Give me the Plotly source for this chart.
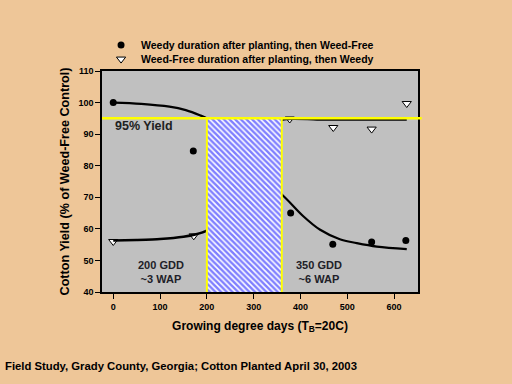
import plotly.graph_objects as go

# Observed data (GDD after planting, % of weed-free control yield)
weedy_x = [0, 171, 379, 469, 552, 625]
weedy_y = [100, 84.7, 65, 55.1, 55.8, 56.3]
weedfree_x = [0, 172, 377, 470, 552, 627]
weedfree_y = [56, 57.8, 94.8, 92.1, 91.6, 99.7]

# Fitted curves
weedy_fit_x = [0, 60, 120, 155, 185, 200, 250, 300, 330, 363, 406, 442, 484, 520, 563, 627]
weedy_fit_y = [100, 99.6, 98.7, 97.6, 96, 95, 87, 78.5, 74.5, 70.5, 64, 59.7, 56.7, 55.5, 54.4, 53.6]
weedfree_fit_x = [0, 50, 100, 150, 175, 200, 250, 300, 340, 362, 450, 540, 627]
weedfree_fit_y = [56.3, 56.5, 56.8, 57.5, 58.2, 59.5, 67, 82, 92, 94.6, 94.6, 94.6, 94.6]

# Critical period and threshold
critical_start = 200
critical_end = 360
yield_threshold = 95
y_min, y_max = 40, 110
x_min, x_max = -24, 651
y_ticks = [40, 50, 60, 70, 80, 90, 100, 110]
x_ticks = [0, 100, 200, 300, 400, 500, 600]

weedy_label = "Weedy duration after planting, then Weed-Free"
weedfree_label = "Weed-Free duration after planting, then Weedy"

BG = "#EEC698"
FONT = "Liberation Sans"

fig = go.Figure()

fig.add_trace(go.Scatter(
    x=weedy_x, y=weedy_y, mode="markers", name=weedy_label, legend="legend",
    marker=dict(symbol="circle", size=7, color="black"),
))
fig.add_trace(go.Scatter(
    x=weedfree_x, y=weedfree_y, mode="markers", name=weedfree_label, legend="legend2",
    marker=dict(symbol="triangle-down", size=8, color="white", line=dict(color="black", width=1)),
))
fig.add_trace(go.Scatter(
    x=weedy_fit_x, y=weedy_fit_y, mode="lines", showlegend=False,
    line=dict(color="black", width=2.2, shape="spline"),
))
fig.add_trace(go.Scatter(
    x=weedfree_fit_x, y=weedfree_fit_y, mode="lines", showlegend=False,
    line=dict(color="black", width=2.5, shape="spline", smoothing=0.6),
))
fig.add_trace(go.Scatter(
    x=[critical_start, critical_end, critical_end, critical_start, critical_start],
    y=[y_min, y_min, yield_threshold, yield_threshold, y_min],
    mode="lines", fill="toself", showlegend=False, hoverinfo="skip",
    line=dict(width=0, color="rgba(0,0,0,0)"),
    fillcolor="white",
    fillpattern=dict(shape="\\", fgcolor="#0000FF", bgcolor="white", size=4, solidity=0.62),
))

# yellow threshold and critical-period borders
fig.add_shape(type="line", xref="paper", yref="y", x0=0, x1=1.012,
              y0=yield_threshold, y1=yield_threshold,
              line=dict(color="#FFFF00", width=2.5), layer="above")
for xv in (critical_start, critical_end):
    fig.add_shape(type="line", xref="x", yref="y", x0=xv, x1=xv,
                  y0=y_min, y1=yield_threshold,
                  line=dict(color="#FFFF00", width=2), layer="above")

annot_font = dict(family=FONT, size=11, color="#202028")
fig.add_annotation(x=66, y=92.5, text="<b>95% Yield</b>", showarrow=False,
                   font=dict(family=FONT, size=12.5, color="#202020"))
fig.add_annotation(x=103, y=46.2, text="<b>200 GDD<br>~3 WAP</b>", showarrow=False, font=annot_font)
fig.add_annotation(x=439, y=46.2, text="<b>350 GDD<br>~6 WAP</b>", showarrow=False, font=annot_font)
fig.add_annotation(xref="paper", yref="paper", x=-0.313, y=-0.335, xanchor="left", yanchor="middle",
                   text="<b>Field Study, Grady County, Georgia; Cotton Planted April 30, 2003</b>",
                   showarrow=False, font=dict(family=FONT, size=11.3, color="black"))

legend_common = dict(
    xref="paper", yref="paper", x=-0.003, xanchor="left", yanchor="middle",
    bgcolor="rgba(0,0,0,0)", borderwidth=0,
    font=dict(family=FONT, size=10.5, color="black", weight="bold"),
)

fig.update_layout(
    width=512, height=384,
    paper_bgcolor=BG, plot_bgcolor="#C0C0C0",
    margin=dict(l=102, r=94, t=71, b=92),
    legend=dict(y=1.1176, **legend_common),
    legend2=dict(y=1.054, **legend_common),
    xaxis=dict(
        range=[x_min, x_max], tickvals=x_ticks, showgrid=False, zeroline=False,
        showline=True, linecolor="black", linewidth=1.5, mirror=True,
        ticks="outside", ticklen=5, tickcolor="black",
        tickfont=dict(family=FONT, size=9, color="black", weight="bold"),
        title=dict(text="<b>Growing degree days (T<sub>B</sub>=20C)</b>",
                   font=dict(family=FONT, size=12, color="black"), standoff=11),
    ),
    yaxis=dict(
        range=[y_min, y_max], tickvals=y_ticks, showgrid=False, zeroline=False,
        showline=True, linecolor="black", linewidth=1.5, mirror=True,
        ticks="outside", ticklen=5, tickcolor="black",
        tickfont=dict(family=FONT, size=9, color="black", weight="bold"),
        title=dict(text="<b>Cotton Yield (% of Weed-Free Control)</b>",
                   font=dict(family=FONT, size=12.6, color="black"), standoff=6),
    ),
)

fig.write_html(
    "out.html",
    config={"displayModeBar": False},
    post_script="document.body.style.margin='0';document.body.style.padding='0';",
)
